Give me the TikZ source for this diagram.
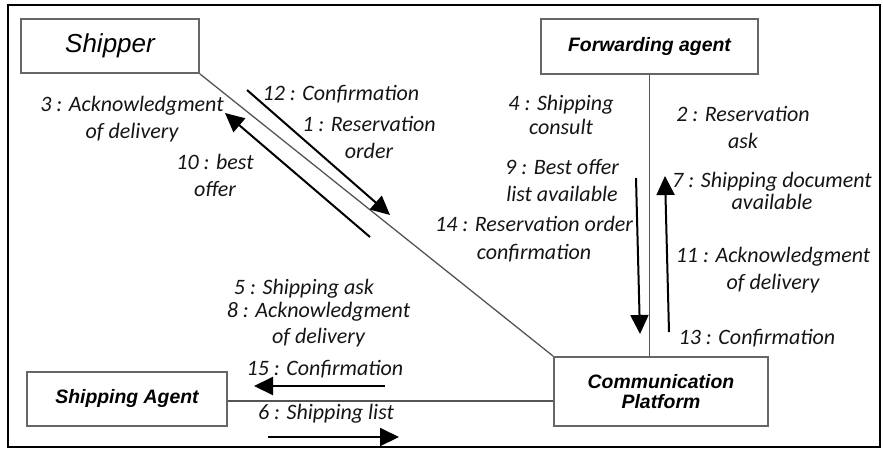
\documentclass[tikz,border=0pt]{standalone}
\usepackage{fontspec}
\usetikzlibrary{arrows.meta}
\newfontfamily\labfont{Carlito}
\newfontfamily\boxfont{Liberation Sans}
\definecolor{boxgray}{HTML}{666666}
\definecolor{linegray}{HTML}{555555}
\definecolor{txt}{HTML}{151515}
\tikzset{
  actor/.style={draw=boxgray, line width=1.8pt, inner sep=0pt, font=\boxfont\bfseries\itshape\fontsize{19.4}{20}\selectfont, align=center},
  msg/.style={text=txt, inner sep=0pt, align=center, font=\labfont\itshape\fontsize{22}{27}\selectfont},
  conn/.style={draw=linegray, line width=1.3pt},
  flow/.style={draw=black, line width=2pt, -{Triangle[length=19pt,width=18pt]}}
}
\begin{document}
\begin{tikzpicture}[x=1pt,y=-1pt]
\useasboundingbox (0,0) rectangle (883,448);
\draw[line width=2.5pt] (8,5) rectangle (880,447);
% actors
\node[actor, minimum width=178pt, minimum height=54pt, font=\boxfont\itshape\fontsize{26}{28}\selectfont] (ship) at (110,46) {Shipper};
\node[actor, minimum width=217pt, minimum height=55pt] (fwd) at (649.5,46.5) {\raisebox{5pt}{Forwarding agent}};
\node[actor, minimum width=200pt, minimum height=54pt] (sa) at (127,399) {\raisebox{5pt}{Shipping Agent}};
\node[actor, minimum width=214pt, minimum height=69pt] (comm) at (661,391.5) {Communication\\Platform};
% connectors
\draw[conn] (ship.south east) -- (comm.north west);
\draw[conn] (fwd.south) -- (fwd.south |- comm.north);
\draw[conn] ([yshift=-2pt]sa.east) -- ([yshift=-2pt]sa.east -| comm.west);
% message arrows
\coordinate (a1s) at (247,90);  \coordinate (a1e) at (390,215);
\coordinate (a2s) at (370,237); \coordinate (a2e) at (225,113);
\coordinate (a3s) at (636,178); \coordinate (a3e) at (640,334);
\coordinate (a4s) at (669,332); \coordinate (a4e) at (665,176);
\coordinate (a5s) at (385,386); \coordinate (a5e) at (254,386);
\coordinate (a6s) at (268,437); \coordinate (a6e) at (399,437);
\draw[flow] (a1s) -- (a1e);
\draw[flow] (a2s) -- (a2e);
\draw[flow] (a3s) -- (a3e);
\draw[flow] (a4s) -- (a4e);
\draw[flow] (a5s) -- (a5e);
\draw[flow] (a6s) -- (a6e);
% labels
\node[msg] (l12) at (341,94) {12 : Confirmation};
\node[msg] (l1) at (369,137) {1 : Reservation\\order};
\node[msg] (l3) at (132,119) {3 : Acknowledgment\\of delivery};
\node[msg] (l10) at (215,175) {10 : best\\offer};
\node[msg, font=\labfont\itshape\fontsize{22}{24}\selectfont] (l4) at (561,115) {4 : Shipping\\consult};
\node[msg] (l2) at (743,127) {2 : Reservation\\ask};
\node[msg] (l9) at (562,180) {9 : Best offer\\list available};
\node[msg, font=\labfont\itshape\fontsize{22}{22}\selectfont] (l7) at (772,191) {7 : Shipping document\\available};
\node[msg, font=\labfont\itshape\fontsize{22}{28}\selectfont] (l14) at (534,239) {14 : Reservation order\\confirmation};
\node[msg] (l11) at (773,270) {11 : Acknowledgment\\of delivery};
\node[msg] (l13) at (757,338) {13 : Confirmation};
\node[msg] (l5) at (304,289) {5 : Shipping ask};
\node[msg, font=\labfont\itshape\fontsize{22}{26}\selectfont] (l8) at (318.5,325) {8 : Acknowledgment\\of delivery};
\node[msg] (l15) at (325,369) {15 : Confirmation};
\node[msg] (l6) at (326,414) {6 : Shipping list};
\end{tikzpicture}
\end{document}
